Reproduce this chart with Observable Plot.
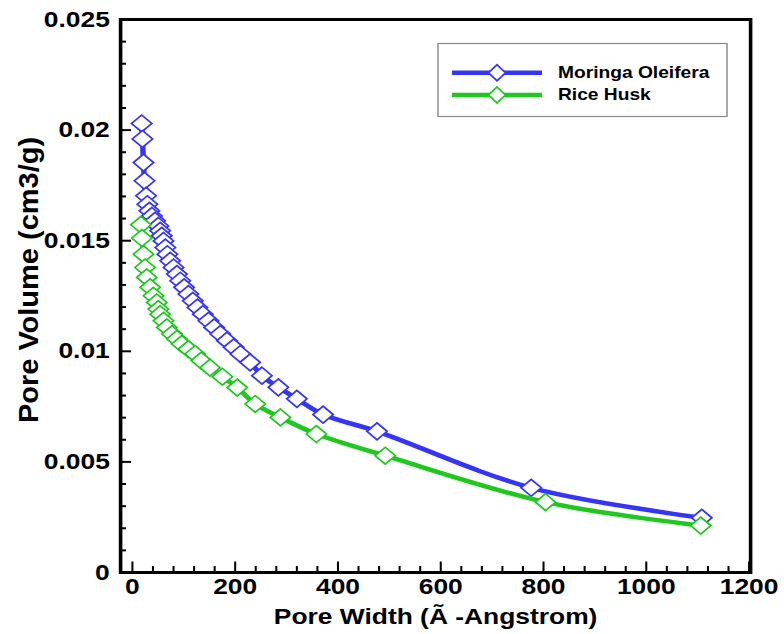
<!DOCTYPE html>
<html><head><meta charset="utf-8">
<script src="https://cdn.jsdelivr.net/npm/d3@7"></script>
<script src="https://cdn.jsdelivr.net/npm/@observablehq/plot@0.6"></script>
<style>body{margin:0;background:#fff;} #chart{position:relative;width:784px;height:634px;overflow:hidden;background:#fff}</style>
</head><body><div id="chart"></div>
<script>
const seriesNames = ["Moringa Oleifera", "Rice Husk"];
const moringaWidth = [18,19.5,21.5,23.5,26.5,29,33,38,44,50.5,54,57,60.5,64,68,73.5,80,86.5,93,100.5,109,117.5,126.5,137,148,159,171,184,197,210,229,252,284,320,371,476,776,1108];
const moringaVolume = [0.0203,0.0196,0.01853,0.01771,0.01703,0.01665,0.01635,0.01612,0.0159,0.01567,0.01545,0.01522,0.01499,0.01469,0.01439,0.01409,0.01379,0.01349,0.01319,0.01289,0.01259,0.01228,0.01198,0.01168,0.01138,0.01108,0.01078,0.01048,0.01018,0.00988,0.0095,0.0089,0.00837,0.00785,0.00714,0.00638,0.00383,0.00247];
const riceWidth = [16.5,18.5,21.5,24.5,28,34.5,41,47.5,50.5,54,60.5,67,77,86.5,96,109,122,134,151,175,204,239,288,358,492,804,1106];
const riceVolume = [0.01572,0.01512,0.01439,0.01379,0.01334,0.01289,0.01251,0.01221,0.01191,0.01168,0.01138,0.01108,0.01078,0.01056,0.01033,0.0101,0.00988,0.00958,0.00926,0.00885,0.00836,0.00762,0.00701,0.00626,0.00528,0.00318,0.00212];
const xTicks = [0,200,400,600,800,1000,1200];
const yTicks = [0,0.005,0.01,0.015,0.02,0.025];
const xLabel = "Pore Width (Ã -Angstrom)";
const yLabel = "Pore Volume (cm3/g)";

const moringa = moringaWidth.map((w,i) => ({series: seriesNames[0], w, v: moringaVolume[i]}));
const rice = riceWidth.map((w,i) => ({series: seriesNames[1], w, v: riceVolume[i]}));
const xMinor = d3.range(0, 1201, 40).filter(d => d % 200 !== 0);
const yMinor = d3.range(0, 26).filter(i => i % 5 !== 0).map(i => i / 1000);

const S = 1.2, W = 784 / S, H = 634;
const mL = 120 / S, mR = 34 / S, mT = 19, mB = 62;
const innerW = W - mL - mR, innerH = H - mT - mB;
const blue = "#3535f5", green = "#1fc81f";

const plot = Plot.plot({
  width: W, height: H,
  marginLeft: mL, marginRight: mR, marginTop: mT, marginBottom: mB,
  style: {fontFamily: "'Liberation Sans', Arial, sans-serif", fontWeight: "bold", fontSize: "22px", color: "black", background: "white"},
  x: {domain: [-23, 1203]},
  y: {domain: [0, 0.025]},
  marks: [
    Plot.axisX(xTicks, {tickSize: 0, tickPadding: 6, tickFormat: d => String(d), label: null, fontSize: 22, fontWeight: "bold"}),
    Plot.axisY(yTicks, {tickSize: 0, tickPadding: 9, tickFormat: d3.format("~g"), label: null, fontSize: 22, fontWeight: "bold"}),
    Plot.ruleX(xTicks, {x: d => d, insetTop: innerH - 10.5, strokeWidth: 1.7, stroke: "black"}),
    Plot.ruleX(xMinor, {x: d => d, insetTop: innerH - 6, strokeWidth: 1.7, stroke: "black"}),
    Plot.ruleY(yTicks, {y: d => d, insetRight: innerW - 11 / S, strokeWidth: 2, stroke: "black"}),
    Plot.ruleY(yMinor, {y: d => d, insetRight: innerW - 6 / S, strokeWidth: 2, stroke: "black"}),
    Plot.line(moringa, {x: "w", y: "v", stroke: blue, strokeWidth: 4.5, curve: "catmull-rom"}),
    Plot.dot(moringa, {x: "w", y: "v", symbol: "diamond2", r: 7.6, stroke: blue, fill: "white", strokeWidth: 1.6}),
    Plot.line(rice, {x: "w", y: "v", stroke: green, strokeWidth: 4.5, curve: "catmull-rom"}),
    Plot.dot(rice, {x: "w", y: "v", symbol: "diamond2", r: 7.6, stroke: green, fill: "white", strokeWidth: 1.6}),
    Plot.frame({stroke: "black", strokeWidth: 3}),
    Plot.text([xLabel], {text: d => d, frameAnchor: "bottom", dy: 51, fontSize: 22, fontWeight: "bold"})
  ]
});

plot.setAttribute("width", 784);
plot.setAttribute("height", 634);
plot.setAttribute("preserveAspectRatio", "none");
plot.style.width = "784px";
plot.style.height = "634px";
plot.style.maxWidth = "none";

const svg = d3.select(plot);
svg.append("text")
  .attr("transform", `translate(${28 / S},280) rotate(-90) scale(1,0.8)`)
  .attr("text-anchor", "middle").attr("dy", "0.35em")
  .style("font-size", "29px").style("font-weight", "bold")
  .text(yLabel);

const lg = svg.append("g");
lg.append("rect").attr("x", 438 / S).attr("y", 43.5).attr("width", (727 - 438) / S).attr("height", 73)
  .attr("fill", "white").attr("stroke", "#8a8a8a").attr("stroke-width", 1.2);
const legendRows = [{name: seriesNames[0], color: blue, y: 72.7}, {name: seriesNames[1], color: green, y: 95}];
legendRows.forEach(r => {
  lg.append("line").attr("x1", 452 / S).attr("x2", 542 / S).attr("y1", r.y).attr("y2", r.y)
    .attr("stroke", r.color).attr("stroke-width", 4.5);
  const cx = 497 / S, hw = 8.5 / S, hh = 8;
  lg.append("polygon").attr("points", `${cx},${r.y - hh} ${cx + hw},${r.y} ${cx},${r.y + hh} ${cx - hw},${r.y}`)
    .attr("fill", "white").attr("stroke", r.color).attr("stroke-width", 1.6);
  lg.append("text").attr("x", 558 / S).attr("y", r.y + 5.5).attr("text-anchor", "start")
    .style("font-size", "16px").style("font-weight", "bold").text(r.name);
});

document.getElementById("chart").appendChild(plot);
</script>
</body></html>
